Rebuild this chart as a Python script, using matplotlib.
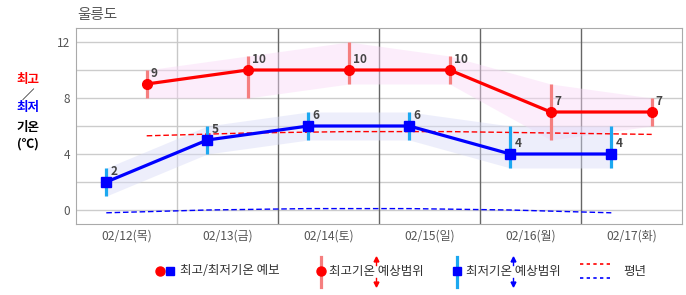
import matplotlib
matplotlib.use("Agg")
import matplotlib.pyplot as plt
from matplotlib.lines import Line2D

plt.rcParams['font.family'] = ['Noto Sans CJK KR', 'DejaVu Sans']

# ---- data ----
dates = ['02/12(목)', '02/13(금)', '02/14(토)', '02/15(일)', '02/16(월)', '02/17(화)']
tmax = [9, 10, 10, 10, 7, 7]
tmax_lo = [8, 8, 9, 9, 5, 6]
tmax_hi = [10, 11, 12, 11, 9, 8]
tmin = [2, 5, 6, 6, 4, 4]
tmin_lo = [1, 4, 5, 5, 3, 3]
tmin_hi = [3, 6, 7, 7, 6, 6]
norm_max = [5.3, 5.5, 5.6, 5.6, 5.5, 5.4]
norm_min = [-0.2, 0.0, 0.1, 0.1, 0.0, -0.2]
yticks = [0, 4, 8, 12]

n = len(dates)
x_min = [i + 0.3 for i in range(n)]   # morning low
x_max = [i + 0.7 for i in range(n)]   # afternoon high
x_mid = [i + 0.5 for i in range(n)]

fig = plt.figure(figsize=(6.86, 2.95), dpi=100)
ax = fig.add_axes([76 / 686, 1 - 224 / 295, 606 / 686, 196 / 295])
ax.set_xlim(0, n)
ax.set_ylim(-1, 13)

# grid
for v in range(0, 14, 2):
    ax.axhline(v, color='#cccccc', lw=1, zorder=0)
for d in range(1, n):
    ax.axvline(d, color='#c8c8c8' if d == 1 else '#666666', lw=1, zorder=0)
for s in ax.spines.values():
    s.set_color('#aaaaaa')

# range bands
ax.fill_between(x_max, tmax_lo, tmax_hi, color='#f9d8f7', alpha=0.45, lw=0, zorder=1)
ax.fill_between(x_min, tmin_lo, tmin_hi, color='#d8dbf7', alpha=0.45, lw=0, zorder=1)

# normals
ax.plot(x_max, norm_max, color='#ff0000', lw=1, ls=(0, (4, 2)), zorder=2)
ax.plot(x_min, norm_min, color='#0000ff', lw=1, ls=(0, (4, 2)), zorder=2)

# range bars
ax.vlines(x_max, tmax_lo, tmax_hi, color='#f57f7f', lw=2.3, zorder=3)
ax.vlines(x_min, tmin_lo, tmin_hi, color='#1ca8f0', lw=2.3, zorder=3)

# forecast lines
ax.plot(x_max, tmax, color='#ff0000', lw=2.3, marker='o', ms=7, zorder=4)
ax.plot(x_min, tmin, color='#0000ff', lw=2.3, marker='s', ms=7, zorder=4)

for xs, ys in ((x_max, tmax), (x_min, tmin)):
    for x, y in zip(xs, ys):
        ax.annotate(str(y), (x, y), xytext=(3, 3), textcoords='offset points',
                    ha='left', va='bottom', fontsize=8.5, fontweight='bold',
                    color='#444444', zorder=5)

ax.set_xticks(x_mid)
ax.set_xticklabels(dates, fontsize=8.7, color='#555555')
ax.set_yticks(yticks)
ax.set_yticklabels([str(v) for v in yticks], fontsize=8.5, color='#555555')
ax.tick_params(length=0, pad=4)

# title and y label
fig.text(77 / 686, 1 - 15 / 295, '울릉도', fontsize=10.5, color='#555555', va='center')
lab_x = 28 / 686
for txt, yy, col in (('최고', 80, '#ff0000'), ('／', 95, '#000000'), ('최저', 108, '#0000ff'),
                     ('기온', 127, '#000000'), ('(℃)', 144, '#000000')):
    fig.text(lab_x, 1 - yy / 295, txt, fontsize=9, fontweight='bold', color=col,
             ha='center', va='center')


# legend, drawn by hand
def fx(px):
    return px / 686


def fy(py):
    return 1 - py / 295


ly = 271
fs = 9
fig.add_artist(Line2D([fx(160)], [fy(ly)], marker='o', ms=6.5, color='#ff0000', ls=''))
fig.add_artist(Line2D([fx(170)], [fy(ly)], marker='s', ms=6, color='#0000ff', ls=''))
fig.text(fx(180), fy(ly), '최고/최저기온 예보', fontsize=fs, color='#333333', va='center')

fig.add_artist(Line2D([fx(321), fx(321)], [fy(257), fy(287)], color='#f57f7f', lw=2.3))
fig.add_artist(Line2D([fx(321)], [fy(ly)], marker='o', ms=6.5, color='#ff0000', ls=''))
fig.add_artist(Line2D([fx(376), fx(376)], [fy(258), fy(265)], color='#ff0000', lw=1))
fig.add_artist(Line2D([fx(376), fx(376)], [fy(278), fy(285)], color='#ff0000', lw=1))
fig.add_artist(Line2D([fx(376)], [fy(259)], marker='^', ms=3.5, color='#ff0000', ls=''))
fig.add_artist(Line2D([fx(376)], [fy(284)], marker='v', ms=3.5, color='#ff0000', ls=''))
fig.text(fx(329), fy(ly), '최고기온 예상범위', fontsize=fs, color='#333333', va='center')

fig.add_artist(Line2D([fx(457), fx(457)], [fy(257), fy(287)], color='#1ca8f0', lw=2.3))
fig.add_artist(Line2D([fx(457)], [fy(ly)], marker='s', ms=6, color='#0000ff', ls=''))
fig.add_artist(Line2D([fx(513), fx(513)], [fy(258), fy(265)], color='#0000ff', lw=1))
fig.add_artist(Line2D([fx(513), fx(513)], [fy(278), fy(285)], color='#0000ff', lw=1))
fig.add_artist(Line2D([fx(513)], [fy(259)], marker='^', ms=3.5, color='#0000ff', ls=''))
fig.add_artist(Line2D([fx(513)], [fy(284)], marker='v', ms=3.5, color='#0000ff', ls=''))
fig.text(fx(466), fy(ly), '최저기온 예상범위', fontsize=fs, color='#333333', va='center')

fig.add_artist(Line2D([fx(580), fx(613)], [fy(264), fy(264)], color='#ff0000', lw=1.2, ls=(0, (2, 2))))
fig.add_artist(Line2D([fx(580), fx(613)], [fy(278), fy(278)], color='#0000ff', lw=1.2, ls=(0, (2, 2))))
fig.text(fx(623), fy(ly), '평년', fontsize=fs, color='#333333', va='center')

fig.savefig('out.png', dpi=100)
